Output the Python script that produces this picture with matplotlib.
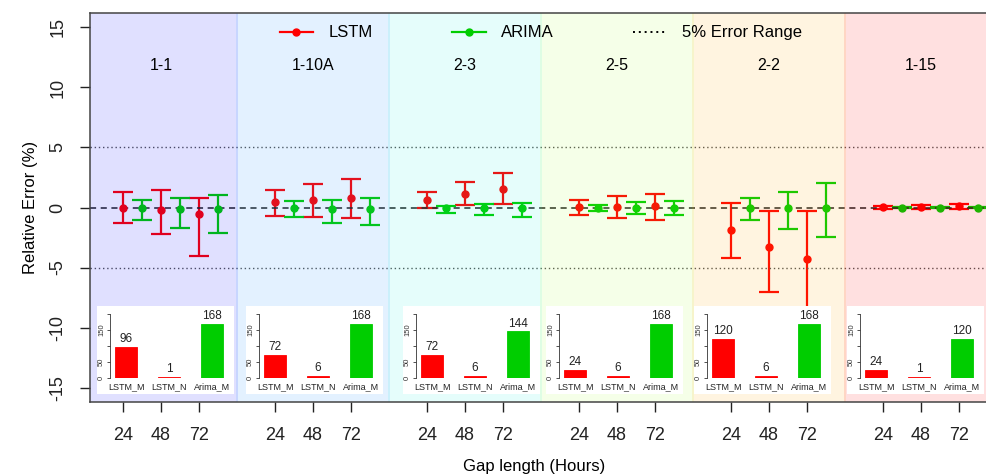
import numpy as np
import matplotlib
matplotlib.use("Agg")
import matplotlib.pyplot as plt
from matplotlib.lines import Line2D
from matplotlib.patches import Rectangle

plt.rcParams['font.family'] = ['Liberation Sans', 'DejaVu Sans']
plt.rcParams['axes.unicode_minus'] = False

# relative error of the reconstructed series, per site and gap length
sites = ['1-1', '1-10A', '2-3', '2-5', '2-2', '1-15']
gaps = [24, 48, 72]

lstm_mean = [[0.0, -0.2, -0.5], [0.45, 0.65, 0.8], [0.65, 1.1, 1.5],
             [0.05, 0.05, 0.1], [-1.85, -3.3, -4.25], [0.06, 0.05, 0.1]]
lstm_low = [[-1.25, -2.2, -4.0], [-0.7, -0.75, -0.85], [0.0, 0.2, 0.3],
            [-0.6, -0.85, -1.0], [-4.2, -7.0, -9.0], [-0.15, -0.12, -0.15]]
lstm_high = [[1.25, 1.45, 0.8], [1.45, 1.95, 2.35], [1.25, 2.1, 2.9],
             [0.65, 0.95, 1.15], [0.35, -0.3, -0.3], [0.15, 0.2, 0.25]]

arima_mean = [[0.0, -0.1, -0.1], [-0.05, -0.1, -0.15], [-0.05, -0.05, -0.05],
              [0.0, 0.0, 0.0], [0.0, -0.05, 0.0], [0.0, 0.0, 0.0]]
arima_low = [[-1.0, -1.7, -2.15], [-0.75, -1.3, -1.45], [-0.45, -0.6, -0.8],
             [-0.3, -0.5, -0.6], [-1.0, -1.75, -2.45], [-0.05, -0.05, -0.05]]
arima_high = [[0.6, 0.8, 1.0], [0.5, 0.6, 0.75], [0.15, 0.3, 0.4],
              [0.2, 0.45, 0.55], [0.8, 1.25, 2.05], [0.05, 0.05, 0.05]]

# number of best cases per method (small bar charts)
bar_names = ['LSTM_M', 'LSTM_N', 'Arima_M']
lstm_m = [96, 72, 72, 24, 120, 24]
lstm_n = [1, 6, 6, 6, 6, 1]
arima_m = [168, 168, 144, 168, 168, 120]

panel_colors = ['#0000ff', '#1e90ff', '#00f0d8', '#adff2f', '#ffa500', '#ff0000']
panel_alpha = [0.12, 0.12, 0.10, 0.11, 0.12, 0.12]
inset_shift = [25, 22, 27, 18, 14, 15]   # px offset of the small axis inside each panel
RED = '#ff0000'
GREEN = '#00cd00'
PX = 38.0  # pixels per x unit

fig = plt.figure(figsize=(9.86, 4.76), dpi=100)
ax = fig.add_axes([90 / 986, 74 / 476, 920 / 986, 389 / 476])
ax.set_xlim(5 / PX, 5 / PX + 920 / PX)
ax.set_ylim(-16.2, 16.2)

n = len(sites)
for k in range(n):
    base = 4 * k
    xs = np.array([1, 2, 3]) + base
    lm = np.array(lstm_mean[k])
    am = np.array(arima_mean[k])
    ax.errorbar(xs, lm, yerr=[lm - np.array(lstm_low[k]), np.array(lstm_high[k]) - lm],
                fmt='o', color=RED, ms=5, elinewidth=1.6, capsize=7.5, capthick=1.6,
                zorder=1)
    ax.errorbar(xs + 0.5, am, yerr=[am - np.array(arima_low[k]), np.array(arima_high[k]) - am],
                fmt='o', color=GREEN, ms=5, elinewidth=1.6, capsize=7.5, capthick=1.6,
                zorder=1)
    left = base - 0.025 if k > 0 else -1
    ax.axvspan(left, base + 4.025, color=panel_colors[k], alpha=panel_alpha[k], lw=0, zorder=2)
    ax.text(base + 2, 11.8, sites[k], ha='center', va='center', fontsize=11.5, zorder=3)

ax.axhline(0, color='#222222', ls=(0, (4, 3)), lw=1.1, zorder=1)
for y in (5, -5):
    ax.axhline(y, color='#555555', ls=(0, (1, 2)), lw=1.0, zorder=1)

# small bar charts at the bottom of every panel
for k in range(n):
    axis_x = 4 * k + inset_shift[k] / PX
    ax.add_patch(Rectangle((axis_x - 13 / PX, -15.5), 137 / PX, 7.33,
                           facecolor='white', edgecolor='none', zorder=3))
    sub = ax.inset_axes([axis_x, -14.17, 117 / PX, 5.34], transform=ax.transData, zorder=4)
    sub.patch.set_visible(False)
    vals = [lstm_m[k], lstm_n[k], arima_m[k]]
    bars = sub.bar([1, 2, 3], vals, width=0.53, color=[RED, RED, GREEN],
                   edgecolor=[RED, RED, GREEN], lw=0.6)
    for b, v in zip(bars, vals):
        sub.text(b.get_x() + b.get_width() / 2, v + 6, str(v), ha='center', va='bottom',
                 fontsize=8.5, color='#222222', clip_on=False)
    sub.set_xlim(1 - 16 / 43, 1 + 101 / 43)
    sub.set_ylim(0, 200)
    for s in ('top', 'right', 'bottom'):
        sub.spines[s].set_visible(False)
    sub.spines['left'].set_bounds(0, 200)
    sub.spines['left'].set_linewidth(0.6)
    sub.spines['left'].set_color('#333333')
    sub.set_yticks([0, 50, 100, 150, 200])
    sub.set_yticklabels(['0', '50', '', '150', ''])
    sub.tick_params(axis='y', length=2.5, width=0.6, labelsize=5.5, pad=1, colors='#333333')
    plt.setp(sub.get_yticklabels(), rotation=90, va='center')
    sub.set_xticks([1, 2, 3])
    sub.set_xticklabels(bar_names)
    sub.tick_params(axis='x', length=0, labelsize=6.5, pad=3, colors='#222222')

ticks = [4 * k + i for k in range(n) for i in (1, 2, 3)]
ax.set_xticks(ticks)
ax.set_xticklabels([str(g) for _ in range(n) for g in gaps])
ax.set_yticks([-15, -10, -5, 0, 5, 10, 15])
ax.tick_params(axis='both', length=7, width=1.0, labelsize=13, colors='#222222')
ax.tick_params(axis='x', pad=11)
ax.tick_params(axis='y', pad=10)
plt.setp(ax.get_yticklabels(), rotation=90, va='center')
for s in ax.spines.values():
    s.set_color('#444444')
    s.set_linewidth(1.1)

ax.set_ylabel('Relative Error (%)', fontsize=12, labelpad=8)
fig.text(534 / 986, 1 - 466 / 476, 'Gap length (Hours)', ha='center', va='center', fontsize=12)

handles = [Line2D([], [], color=RED, marker='o', ms=5, lw=1.6),
           Line2D([], [], color=GREEN, marker='o', ms=5, lw=1.6),
           Line2D([], [], color='black', ls=(0, (1, 2)), lw=1.4)]
ax.legend(handles, ['LSTM', 'ARIMA', '5% Error Range'], ncol=3, frameon=False,
          loc='center', bbox_to_anchor=(0.49, 0.949), fontsize=12, handlelength=2.0,
          handletextpad=0.9, columnspacing=4.8)

fig.savefig('out.png', dpi=100)
